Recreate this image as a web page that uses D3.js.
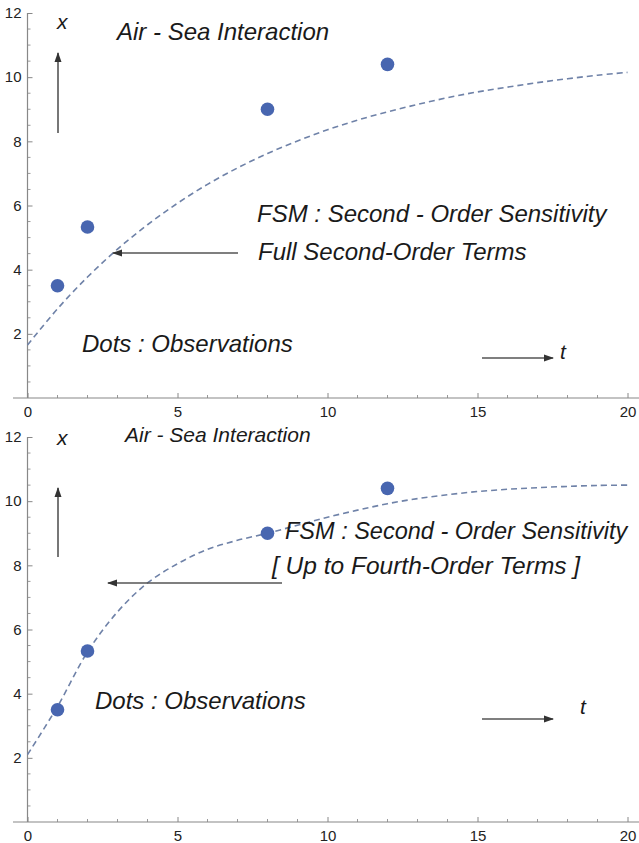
<!DOCTYPE html>
<html>
<head>
<meta charset="utf-8">
<script src="https://cdn.jsdelivr.net/npm/d3@7"></script>
<style>
  body { margin: 0; background: #fff; }
  svg { display: block; }
  text { font-family: "Liberation Sans", Arial, sans-serif; }
  .lbl { font-style: italic; fill: #1a1a1a; }
  .tick text { font-size: 15px; fill: #222; }
</style>
</head>
<body>
<div id="chart"></div>
<script>
// observations (same in both panels)
const tObs = [1, 2, 8, 12];
const xObs = [3.5, 5.33, 9.0, 10.4];

// model curves at t = 0..20
const tCurve = [0, 1, 2, 3, 4, 5, 6, 7, 8, 9, 10, 11, 12, 13, 14, 15, 16, 17, 18, 19, 20];
const xSecond = [1.65, 2.78, 3.77, 4.64, 5.4, 6.07, 6.66, 7.17, 7.62, 8.01, 8.36, 8.66, 8.92, 9.15, 9.36, 9.54, 9.69, 9.83, 9.95, 10.06, 10.15];
const xFourth = [2.1, 3.6, 5.3, 6.55, 7.45, 8.05, 8.5, 8.78, 9.0, 9.25, 9.5, 9.72, 9.92, 10.08, 10.2, 10.3, 10.37, 10.42, 10.46, 10.49, 10.5];

const xTicks = [0, 5, 10, 15, 20];
const yTicks = [2, 4, 6, 8, 10, 12];

const W = 639, H = 843;
const svg = d3.select("#chart").append("svg")
    .attr("width", W).attr("height", H);

svg.append("defs").append("marker")
    .attr("id", "head")
    .attr("viewBox", "0 0 10 10")
    .attr("refX", 9).attr("refY", 5)
    .attr("markerWidth", 10).attr("markerHeight", 10)
    .attr("markerUnits", "userSpaceOnUse")
    .attr("orient", "auto")
  .append("path")
    .attr("d", "M0,1.5 L10,5 L0,8.5 Z")
    .attr("fill", "#333");

var drawPanel = function(top, curve, txt){
    const x = d3.scaleLinear().domain([0, 20]).range([27.5, 627.5]);
    const y = d3.scaleLinear().domain([0, 12]).range([top + 385, top]);
    const g = svg.append("g");

    // minor ticks
    g.append("g").selectAll("line")
        .data(d3.range(0, 21, 1).filter(d => d % 5 !== 0))
        .enter().append("line")
        .attr("x1", d => x(d)).attr("x2", d => x(d))
        .attr("y1", y(0)).attr("y2", y(0) - 3)
        .attr("stroke", "#999");
    g.append("g").selectAll("line")
        .data(d3.range(0.5, 12, 0.5).filter(d => d % 2 !== 0))
        .enter().append("line")
        .attr("x1", x(0)).attr("x2", x(0) + 3)
        .attr("y1", d => y(d)).attr("y2", d => y(d))
        .attr("stroke", "#999");

    // axes with inward ticks
    const ax = g.append("g")
        .attr("transform", `translate(0,${y(0)})`)
        .call(d3.axisBottom(x).tickValues(xTicks).tickSize(-5).tickPadding(8));
    ax.select(".domain").remove();
    ax.selectAll(".tick line").attr("stroke", "#888");

    const ay = g.append("g")
        .attr("transform", `translate(${x(0)},0)`)
        .call(d3.axisLeft(y).tickValues(yTicks).tickSize(-5).tickPadding(6));
    ay.select(".domain").remove();
    ay.selectAll(".tick line").attr("stroke", "#888");

    g.append("line")
        .attr("x1", 13).attr("x2", W)
        .attr("y1", y(0)).attr("y2", y(0))
        .attr("stroke", "#888").attr("stroke-width", 1.2);
    g.append("line")
        .attr("x1", x(0)).attr("x2", x(0))
        .attr("y1", y(12)).attr("y2", y(0))
        .attr("stroke", "#888").attr("stroke-width", 1.2);

    // dashed model curve
    const line = d3.line()
        .x((d, i) => x(tCurve[i]))
        .y(d => y(d))
        .curve(d3.curveCatmullRom);
    g.append("path")
        .datum(curve)
        .attr("d", line)
        .attr("fill", "none")
        .attr("stroke", "#6f82a8")
        .attr("stroke-width", 1.6)
        .attr("stroke-dasharray", "6,4");

    // observations
    g.append("g").selectAll("circle")
        .data(xObs)
        .enter().append("circle")
        .attr("cx", (d, i) => x(tObs[i]))
        .attr("cy", d => y(d))
        .attr("r", 6.8)
        .attr("fill", "#4866b0");

    // arrows
    const arrow = (x1, y1, x2, y2) => g.append("line")
        .attr("x1", x1).attr("y1", y1).attr("x2", x2).attr("y2", y2)
        .attr("stroke", "#555").attr("stroke-width", 1.6)
        .attr("marker-end", "url(#head)");
    arrow(58, top + 120, 58, top + txt.upTo);
    arrow(482, top + txt.tArrow, 553, top + txt.tArrow);
    arrow(txt.arrowFrom, top + txt.arrowY, txt.arrowTo, top + txt.arrowY);

    const label = (s, px, py, size) => g.append("text")
        .attr("class", "lbl")
        .attr("x", px).attr("y", top + py)
        .attr("font-size", size)
        .text(s);
    label("x", 57, txt.xY, 21);
    label("Air - Sea Interaction", txt.airX, txt.airY, txt.airSize);
    label("FSM : Second - Order Sensitivity", txt.fsmX, txt.fsmY, txt.fsmSize);
    label(txt.terms, txt.termsX, txt.termsY, txt.termsSize);
    label("Dots : Observations", txt.dotsX, txt.dotsY, 24);
    label("t", txt.tX, txt.tY, 21);
}

drawPanel(13, xSecond, {
    upTo: 40, xY: 16,
    airX: 117, airY: 27, airSize: 24,
    fsmX: 257, fsmY: 208.5, fsmSize: 24,
    terms: "Full Second-Order Terms", termsX: 258, termsY: 246.5, termsSize: 24,
    arrowFrom: 238, arrowTo: 113, arrowY: 240,
    dotsX: 82, dotsY: 338.5,
    tX: 560, tY: 346, tArrow: 345
});

drawPanel(437, xFourth, {
    upTo: 51, xY: 8,
    airX: 125, airY: 4.5, airSize: 21,
    fsmX: 285, fsmY: 101.5, fsmSize: 23.5,
    terms: "[ Up to Fourth-Order Terms ]", termsX: 272, termsY: 137, termsSize: 24.5,
    arrowFrom: 282, arrowTo: 108, arrowY: 146,
    dotsX: 95, dotsY: 271.5,
    tX: 580, tY: 277, tArrow: 282
});
</script>
</body>
</html>
